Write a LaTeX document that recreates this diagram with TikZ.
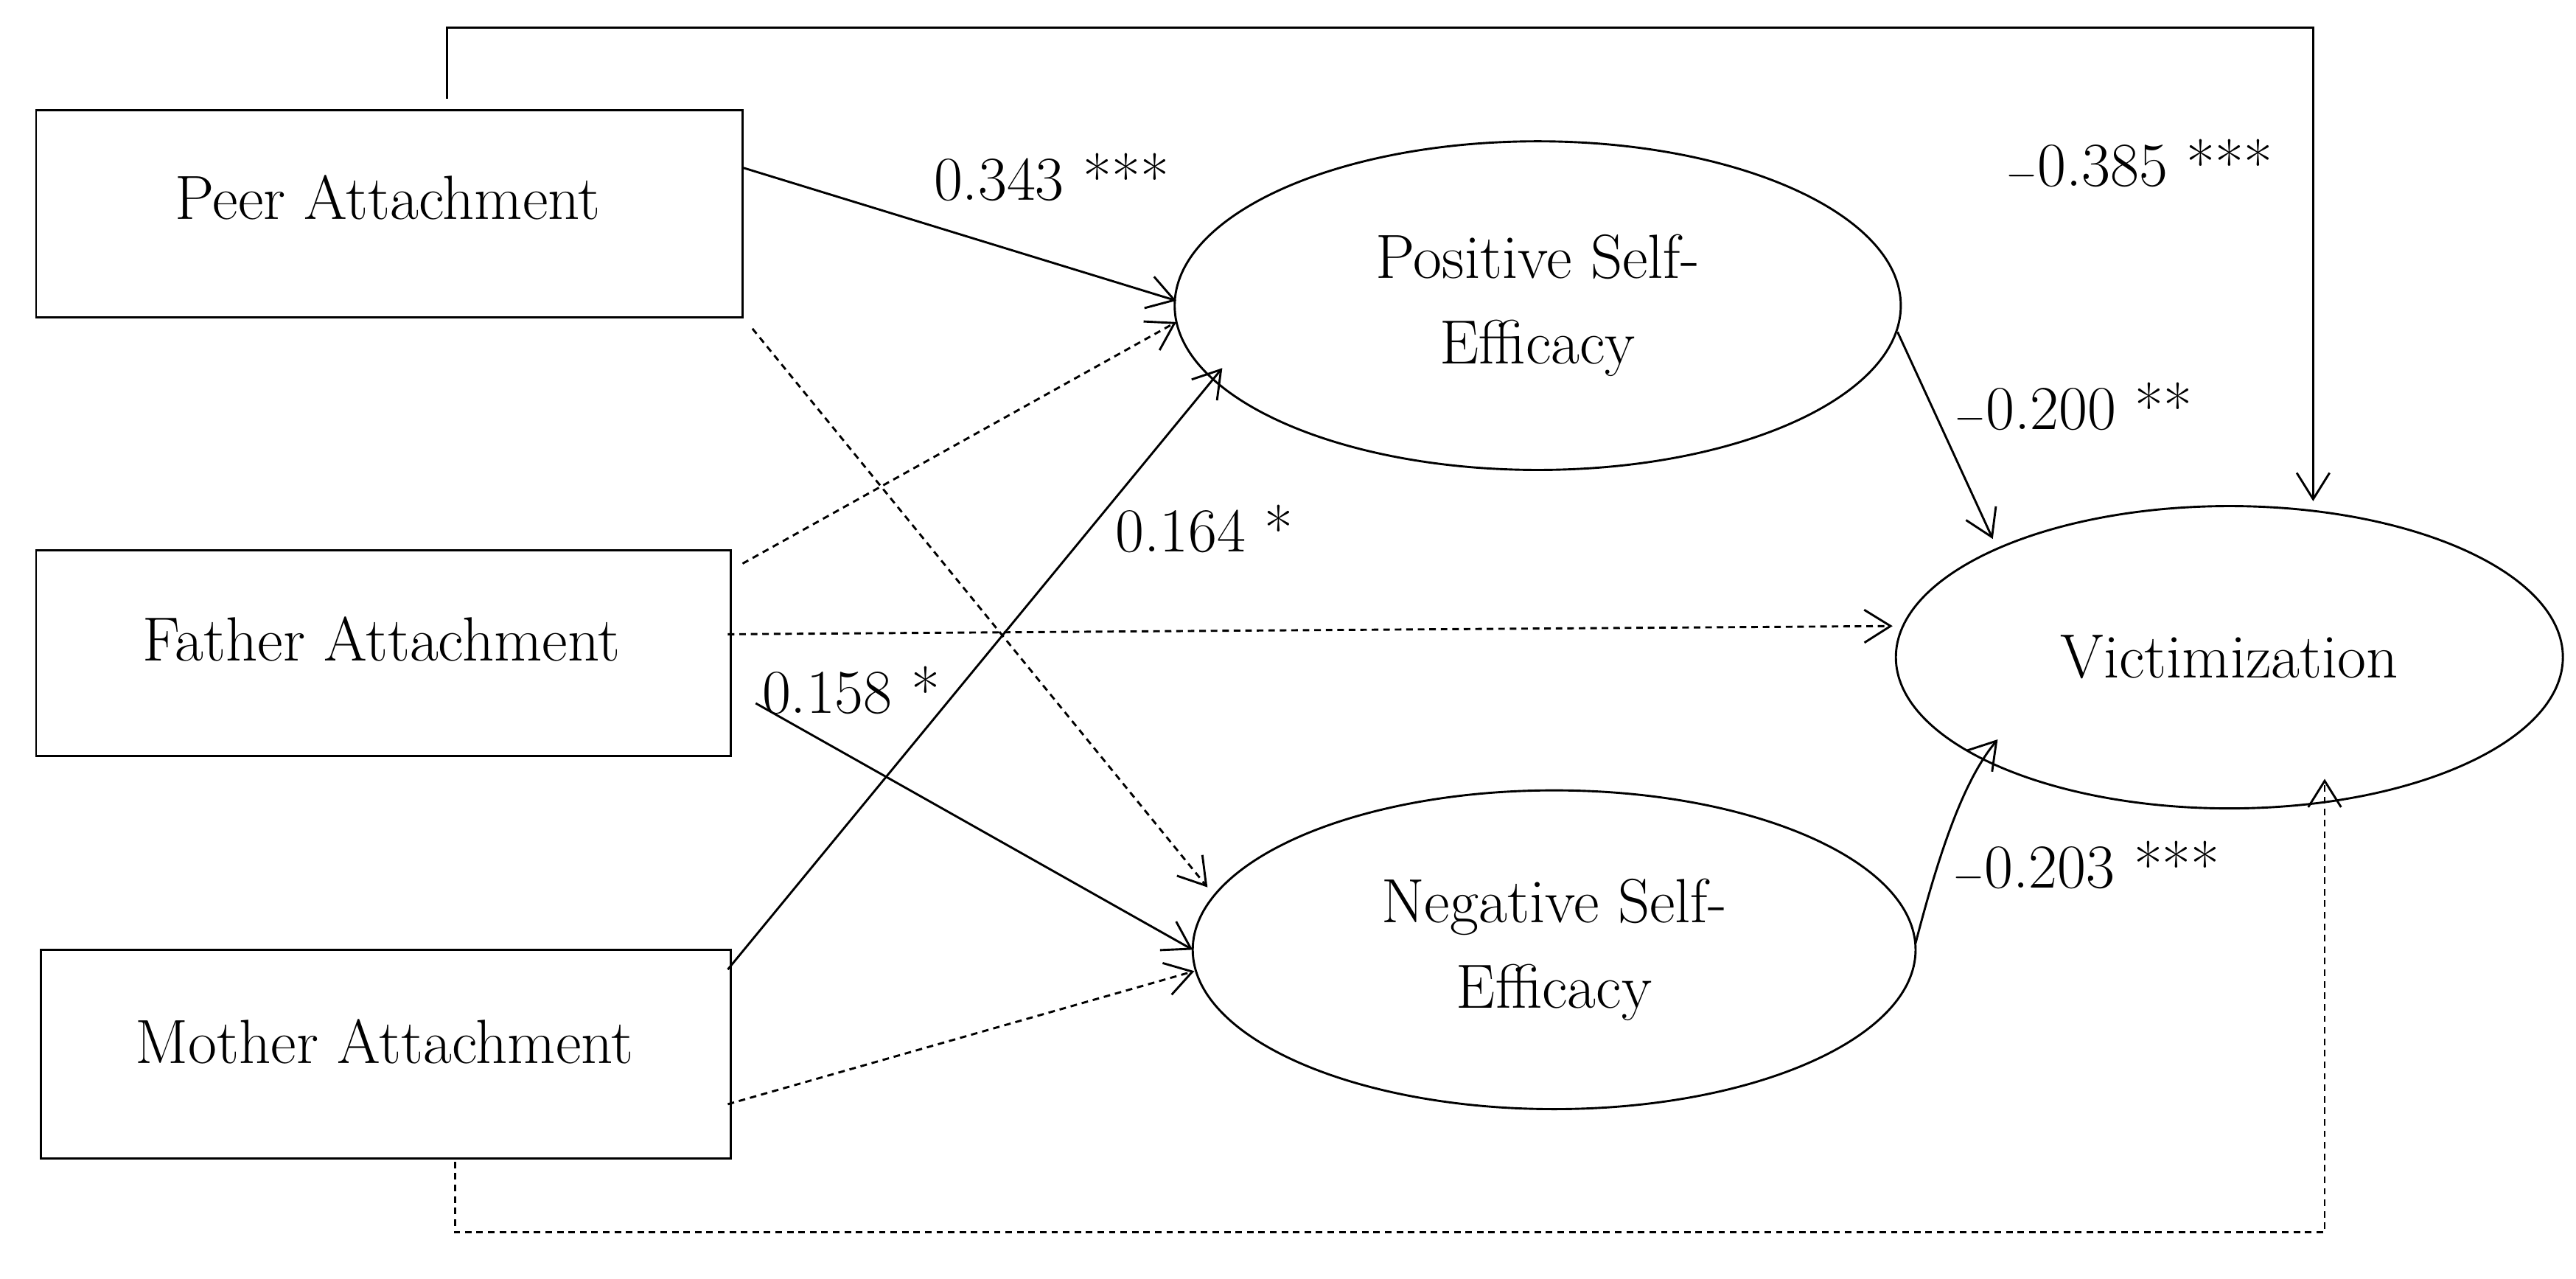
\documentclass[tikz,border=0pt]{standalone}
\usetikzlibrary{arrows.meta,shapes.geometric,calc}
\begin{document}
\begin{tikzpicture}[x=1pt,y=-1pt,
  every node/.style={font=\fontsize{38}{52}\selectfont},
  ln/.style={line width=1.3pt,-{Straight Barb[length=16pt,width=20pt,line width=1.3pt]}},
  dsh/.style={ln,dash pattern=on 4pt off 3pt},
  lab/.style={anchor=center}]
\useasboundingbox (0,0) rectangle (1568,778);
\draw[line width=1.3pt] (22,67) rectangle (452,193);
\node (peer) at (236,120) {Peer Attachment};
\draw[line width=1.3pt] (22,335) rectangle (445,460);
\node (father) at (232,389) {Father Attachment};
\draw[line width=1.3pt] (25,578) rectangle (445,705);
\node (mother) at (234,634) {Mother Attachment};
\draw[line width=1.3pt] (936,186) ellipse [x radius=221,y radius=100];
\node (pos) at (936,186) [align=center] {Positive Self-\\Efficacy};
\draw[line width=1.3pt] (946,578) ellipse [x radius=220,y radius=97];
\node (neg) at (946,578) [align=center] {Negative Self-\\Efficacy};
\draw[line width=1.3pt] (1357,400) ellipse [x radius=203,y radius=92];
\node (vic) at (1357,400) {Victimization};
\coordinate (pT) at (272,60); \coordinate (vT) at (1408,305);
\coordinate (mB) at (277,707); \coordinate (vB) at (1415,474);
\draw[ln] (pT) -- (272,17) -- (1408,17) -- (vT);
\draw[ln] (452,102) -- (716,183);
\draw[dsh] (458,200) -- (735,540);
\draw[dsh] (452,343) -- (716,196);
\draw[dsh] (443,386) -- (1152,381);
\draw[ln] (460,428) -- (726,578);
\draw[ln] (443,590) -- (744,224);
\draw[dsh] (443,672) -- (727,591);
\draw[dsh] (mB) -- (277,750) -- (1415,750) -- (vB);
\draw[ln] (1155,202) -- (1213,328);
\draw[ln] (1166,574) .. controls (1180,520) and (1195,475) .. (1216,450);
\node[lab] at (1302,100) {$-$0.385 ***};
\node[lab] at (640,108) {0.343 ***};
\node[lab] at (518,420) {0.158 *};
\node[lab] at (733,322) {0.164 *};
\node[lab] at (1262,248) {$-$0.200 **};
\node[lab] at (1270,527) {$-$0.203 ***};
\end{tikzpicture}
\end{document}
